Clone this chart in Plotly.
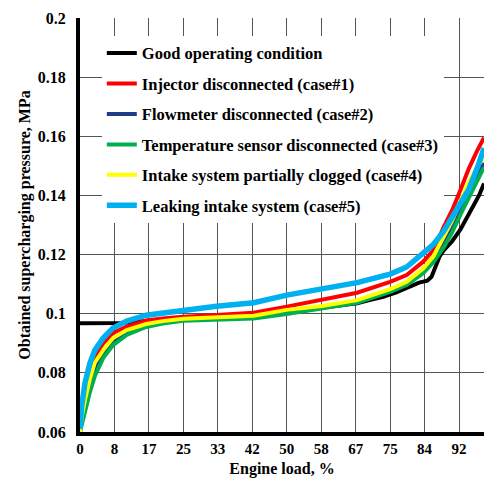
import plotly.graph_objects as go

# ---- data ----
load = [0, 0.4, 1.2, 2.4, 3.6, 5.6, 8, 11.3, 16, 20, 25, 33, 42, 50, 58.5, 67,
        75, 79, 83, 85.5, 88, 90, 92, 94, 96, 97.7]

good_x = [0, 10, 16, 25, 33, 42, 50, 58.5, 67, 70, 73.3, 76.5, 79, 82, 84, 85,
          86, 87, 88, 90, 92, 93.5, 95, 96.5, 97.7]
good_y = [0.0968, 0.0969, 0.0975, 0.0983, 0.0990, 0.0995, 0.1003, 0.1020, 0.1035,
          0.1046, 0.1057, 0.1072, 0.1087, 0.1105, 0.1112, 0.1125, 0.1160, 0.1195,
          0.1215, 0.1245, 0.1285, 0.1325, 0.1360, 0.1400, 0.1440]

case1 = [0.060, 0.066, 0.0715, 0.078, 0.0855, 0.0900, 0.0935, 0.0956, 0.0977, 0.0984,
         0.0990, 0.0996, 0.1003, 0.1024, 0.1046, 0.1071, 0.1108, 0.1131, 0.1176, 0.1215,
         0.1295, 0.1350, 0.1418, 0.1490, 0.1550, 0.1595]
case2 = [0.060, 0.064, 0.069, 0.076, 0.081, 0.086, 0.0905, 0.0935, 0.0960, 0.0970,
         0.0980, 0.0985, 0.0990, 0.1005, 0.1022, 0.1040, 0.1078, 0.1102, 0.1142, 0.1185,
         0.1245, 0.1295, 0.1360, 0.1420, 0.1470, 0.1510]
case3 = [0.060, 0.0625, 0.0664, 0.0735, 0.0790, 0.0850, 0.0894, 0.0928, 0.0955, 0.0967,
         0.0976, 0.0980, 0.0984, 0.0999, 0.1019, 0.1037, 0.1074, 0.1097, 0.1137, 0.1175,
         0.1225, 0.1275, 0.1335, 0.1390, 0.1445, 0.1495]
case4 = [0.060, 0.065, 0.0708, 0.0780, 0.0835, 0.0877, 0.0918, 0.0945, 0.0965, 0.0975,
         0.0983, 0.0988, 0.0993, 0.1013, 0.1026, 0.1046, 0.1083, 0.1108, 0.1153, 0.1195,
         0.1260, 0.1315, 0.1380, 0.1445, 0.1495, 0.1530]
case5 = [0.061, 0.0686, 0.0765, 0.0833, 0.0877, 0.0918, 0.0952, 0.0975, 0.0995, 0.1003,
         0.1012, 0.1025, 0.1037, 0.1063, 0.1084, 0.1105, 0.1134, 0.1158, 0.1205, 0.1235,
         0.1280, 0.1325, 0.1368, 0.1420, 0.1490, 0.1560]

names = ["Good operating condition", "Injector disconnected (case#1)",
         "Flowmeter disconnected (case#2)", "Temperature sensor disconnected (case#3)",
         "Intake system partially clogged (case#4)", "Leaking intake system (case#5)"]
colors = ["#000000", "#FF0000", "#1F3C88", "#00B050", "#FFFF00", "#00B0F0"]

x_tickvals = [i * 100 / 12 for i in range(12)]
x_ticktext = ["0", "8", "17", "25", "33", "42", "50", "58", "67", "75", "84", "92"]
y_tickvals = [0.06, 0.08, 0.10, 0.12, 0.14, 0.16, 0.18, 0.20]
y_ticktext = ["0.06", "0.08", "0.1", "0.12", "0.14", "0.16", "0.18", "0.2"]

series = [(good_x, good_y), (load, case1), (load, case2), (load, case3),
          (load, case4), (load, case5)]
widths = [4, 4, 4, 4, 4, 5.5]

FONT = "Liberation Serif"

fig = go.Figure()
for i, ((xs, ys), nm, c, w) in enumerate(zip(series, names, colors, widths)):
    fig.add_trace(go.Scatter(x=xs, y=ys, mode="lines", name=nm, legendgroup=f"g{i}",
                             line=dict(color=c, width=w)))

fig.update_layout(
    width=484, height=479,
    margin=dict(l=80, r=0, t=18, b=47),
    paper_bgcolor="white", plot_bgcolor="white",
    font=dict(family=FONT, color="black", weight="bold"),
    legend=dict(x=0.054, y=0.957, xanchor="left", yanchor="top",
                bgcolor="white", borderwidth=0, tracegroupgap=6,
                font=dict(family=FONT, size=16.5, color="black", weight="bold")),
    showlegend=True,
)
fig.update_xaxes(range=[0, 97.7], tickvals=x_tickvals, ticktext=x_ticktext,
                 showgrid=True, gridcolor="#555555", gridwidth=1, zeroline=False,
                 showline=True, linecolor="black", linewidth=4, ticks="",
                 tickfont=dict(family=FONT, size=15, weight="bold"),
                 title=dict(text="Engine load, %", standoff=8,
                            font=dict(family=FONT, size=16, weight="bold")),
                 automargin=False)
fig.update_yaxes(range=[0.06, 0.2], tickvals=y_tickvals, ticktext=y_ticktext,
                 showgrid=True, gridcolor="#555555", gridwidth=1, zeroline=False,
                 showline=True, linecolor="black", linewidth=4, ticks="",
                 ticklabelstandoff=7,
                 tickfont=dict(family=FONT, size=16, weight="bold"),
                 title=dict(text="Obtained supercharging pressure, MPa", standoff=4,
                            font=dict(family=FONT, size=16, weight="bold")),
                 automargin=False)

fig.write_html("out.html")
